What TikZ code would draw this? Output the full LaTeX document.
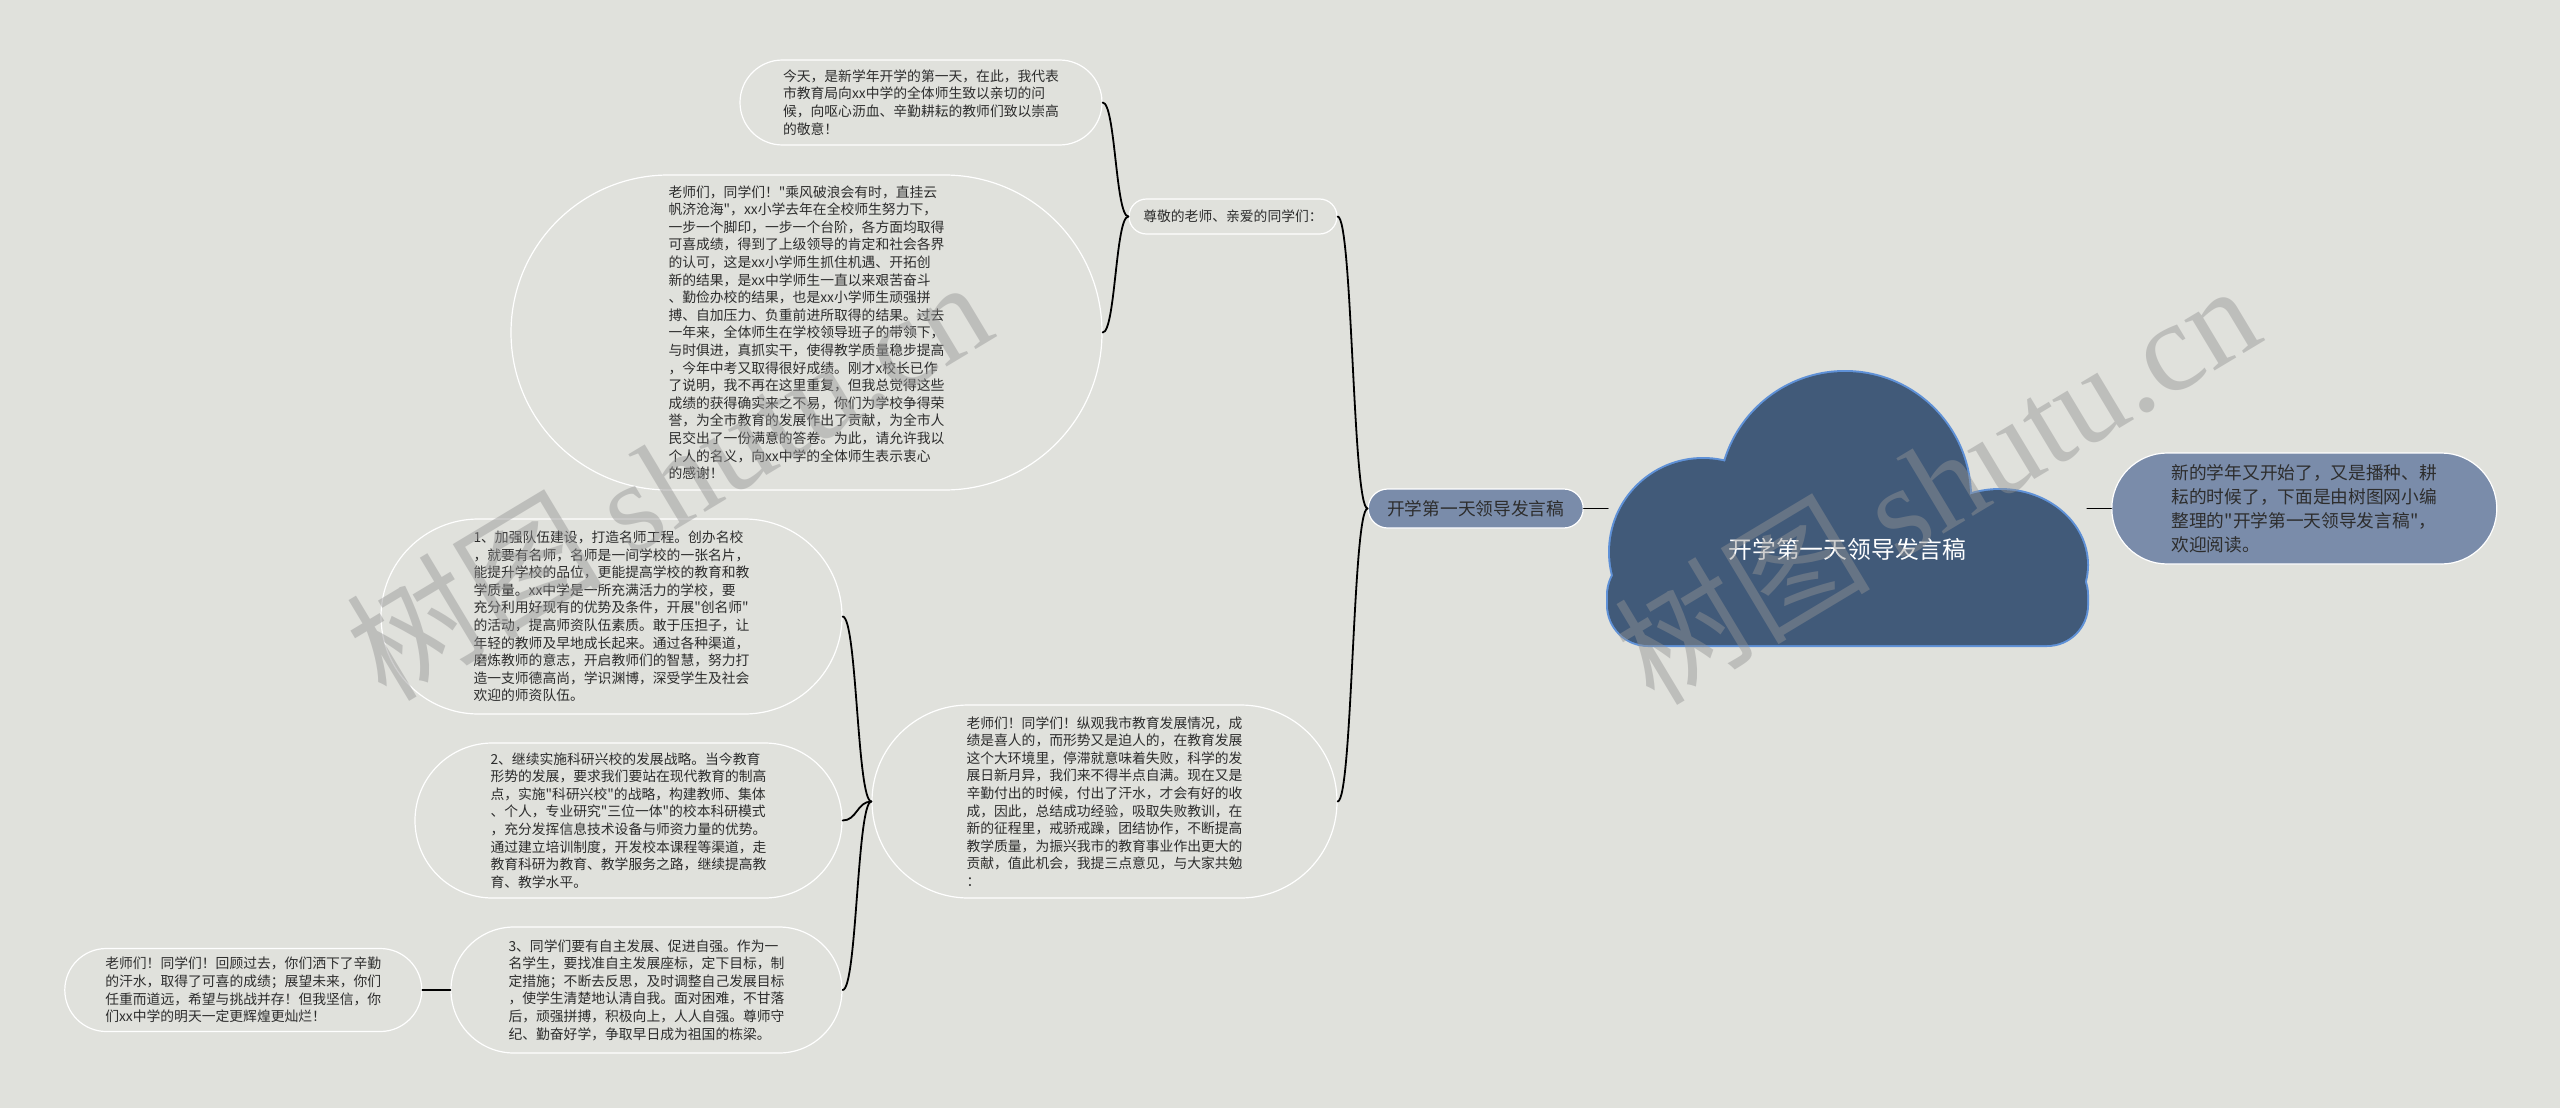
\documentclass[tikz,border=0pt]{standalone}
\usepackage{fontspec}
\setmainfont{Noto Sans CJK SC}
\newfontfamily\cjkfont{Noto Sans CJK SC}
\newfontfamily\wmlatin{Liberation Serif}
\usetikzlibrary{positioning,shapes.misc,calc}

\definecolor{mapbg}{RGB}{224,225,220}
\definecolor{cloudfill}{RGB}{65,90,121}
\definecolor{cloudline}{RGB}{95,145,215}
\definecolor{pillfill}{RGB}{122,140,170}
\definecolor{mindtext}{RGB}{45,45,45}

\tikzset{
  mm/pill/.style={rounded rectangle, draw=white, line width=1.2pt, inner xsep=2pt, inner ysep=0pt,
    align=left, text=mindtext, font=\cjkfont\fontsize{13.8}{17.6}\selectfont},
  mm/branch/.style={mm/pill, fill=pillfill, font=\cjkfont\fontsize{17.7}{24}\selectfont},
  mm/root/.style={minimum width=479pt, minimum height=273pt, inner sep=0pt},
  mm/title/.style={inner sep=0pt, text=white, font=\cjkfont\fontsize{23.8}{28}\selectfont},
  mm/link/.style={line width=1.8pt, line cap=round,
    to path={let \p1=(\tikztostart), \p2=(\tikztotarget) in
      .. controls ({(\x1+\x2)/2},\y1) and ({(\x1+\x2)/2},\y2) .. (\tikztotarget)}},
  mm/mark/.style={rotate=31, inner sep=0pt, text=black!42, text opacity=0.45,
    font=\cjkfont\fontsize{128}{128}\selectfont}
}

\begin{document}
\begin{tikzpicture}[x=1pt, y=-1pt]
  \useasboundingbox[fill=mapbg] (0,0) rectangle (2560,1108);

  % cloud behind the title
  \path[draw=cloudline, line width=4pt] (1703,552) circle[radius=93] (1845,497) circle[radius=125]
    (2000,565) ellipse[x radius=87, y radius=75];
  \path[draw=cloudline, line width=4pt, rounded corners=40pt] (1608,555) rectangle (2087,645);
  \path[fill=cloudfill] (1703,552) circle[radius=93] (1845,497) circle[radius=125]
    (2000,565) ellipse[x radius=87, y radius=75];
  \path[fill=cloudfill, rounded corners=40pt] (1608,555) rectangle (2087,645);

  \node[mm/root] (root) at (1847.5,508.5) {};
  \node[mm/title] (title) at ([yshift=-41pt]root.center) {开学第一天领导发言稿};
  \node[mm/branch, left=24pt of root, minimum width=219pt, minimum height=39pt] (topic) {开学第一天领导发言稿};
  \node[mm/branch, right=24pt of root, minimum width=389pt, minimum height=111pt] (intro)
    {新的学年又开始了，又是播种、耕\\耘的时候了，下面是由树图网小编\\整理的"开学第一天领导发言稿"，\\欢迎阅读。};

  % upper branch
  \node[mm/pill, minimum width=212pt, minimum height=35pt] (greet) at (1233,216.5) {尊敬的老师、亲爱的同学们：};
  \node[mm/pill, minimum width=366pt, minimum height=85pt] (today) at (921,102.5)
    {今天，是新学年开学的第一天，在此，我代表\\市教育局向xx中学的全体师生致以亲切的问\\候，向呕心沥血、辛勤耕耘的教师们致以崇高\\的敬意！};
  \node[mm/pill, minimum width=595pt, minimum height=315pt] (thanks) at (806.5,332.5)
    {老师们，同学们！"乘风破浪会有时，直挂云\\帆济沧海"，xx小学去年在全校师生努力下，\\一步一个脚印，一步一个台阶，各方面均取得\\可喜成绩，得到了上级领导的肯定和社会各界\\的认可，这是xx小学师生抓住机遇、开拓创\\新的结果，是xx中学师生一直以来艰苦奋斗\\、勤俭办校的结果，也是xx小学师生顽强拼\\搏、自加压力、负重前进所取得的结果。过去\\一年来，全体师生在学校领导班子的带领下，\\与时俱进，真抓实干，使得教学质量稳步提高\\，今年中考又取得很好成绩。刚才x校长已作\\了说明，我不再在这里重复，但我总觉得这些\\成绩的获得确实来之不易，你们为学校争得荣\\誉，为全市教育的发展作出了贡献，为全市人\\民交出了一份满意的答卷。为此，请允许我以\\个人的名义，向xx中学的全体师生表示衷心\\的感谢！};

  % lower branch
  \node[mm/pill, minimum width=469pt, minimum height=193pt] (review) at (1104.5,801.5)
    {老师们！同学们！纵观我市教育发展情况，成\\绩是喜人的，而形势又是迫人的，在教育发展\\这个大环境里，停滞就意味着失败，科学的发\\展日新月异，我们来不得半点自满。现在又是\\辛勤付出的时候，付出了汗水，才会有好的收\\成，因此，总结成功经验，吸取失败教训，在\\新的征程里，戒骄戒躁，团结协作，不断提高\\教学质量，为振兴我市的教育事业作出更大的\\贡献，值此机会，我提三点意见，与大家共勉\\：};
  \node[mm/pill, minimum width=465pt, minimum height=195pt] (pointa) at (611.5,616.5)
    {1、加强队伍建设，打造名师工程。创办名校\\，就要有名师，名师是一间学校的一张名片，\\能提升学校的品位，更能提高学校的教育和教\\学质量。xx中学是一所充满活力的学校，要\\充分利用好现有的优势及条件，开展"创名师"\\的活动，提高师资队伍素质。敢于压担子，让\\年轻的教师及早地成长起来。通过各种渠道，\\磨炼教师的意志，开启教师们的智慧，努力打\\造一支师德高尚，学识渊博，深受学生及社会\\欢迎的师资队伍。};
  \node[mm/pill, minimum width=431pt, minimum height=155pt] (pointb) at (628.5,820.5)
    {2、继续实施科研兴校的发展战略。当今教育\\形势的发展，要求我们要站在现代教育的制高\\点，实施"科研兴校"的战略，构建教师、集体\\、个人，专业研究"三位一体"的校本科研模式\\，充分发挥信息技术设备与师资力量的优势。\\通过建立培训制度，开发校本课程等渠道，走\\教育科研为教育、教学服务之路，继续提高教\\育、教学水平。};
  \node[mm/pill, minimum width=395pt, minimum height=126pt] (pointc) at (646.5,990)
    {3、同学们要有自主发展、促进自强。作为一\\名学生，要找准自主发展座标，定下目标，制\\定措施；不断去反思，及时调整自己发展目标\\，使学生清楚地认清自我。面对困难，不甘落\\后，顽强拼搏，积极向上，人人自强。尊师守\\纪、勤奋好学，争取早日成为祖国的栋梁。};
  \node[mm/pill, left=28pt of pointc, minimum width=361pt, minimum height=83pt] (closing)
    {老师们！同学们！回顾过去，你们洒下了辛勤\\的汗水，取得了可喜的成绩；展望未来，你们\\任重而道远，希望与挑战并存！但我坚信，你\\们xx中学的明天一定更辉煌更灿烂！};

  % links
  \draw[mm/link] (root.west) -- (topic.east);
  \draw[mm/link] (root.east) -- (intro.west);
  \draw[mm/link] (topic.west) to (greet.east);
  \draw[mm/link] (topic.west) to (review.east);
  \draw[mm/link] (greet.west) to (today.east);
  \draw[mm/link] (greet.west) to (thanks.east);
  \foreach \pt in {pointa,pointb,pointc}
    \draw[mm/link] (review.west) to (\pt.east);
  \draw[mm/link] (pointc.west) -- (closing.east);

  % watermarks
  \node[mm/mark] (markleft) at (668,478) {树图 {\wmlatin shutu.cn}};
  \node[mm/mark] (markright) at (1936,482) {树图 {\wmlatin shutu.cn}};
\end{tikzpicture}
\end{document}
